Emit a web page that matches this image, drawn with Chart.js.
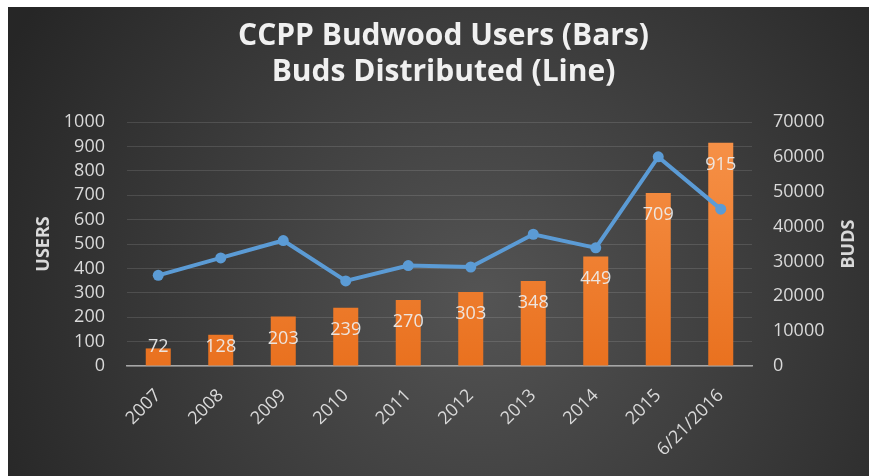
<!DOCTYPE html>
<html><head><meta charset="utf-8">
<script src="https://cdn.jsdelivr.net/npm/chart.js@4/dist/chart.umd.min.js"></script>
<style>
html,body{margin:0;padding:0;background:#fff;overflow:hidden;}
#wrap{position:absolute;left:8px;top:7px;width:861px;height:469px;}
</style></head><body>
<div id="wrap"><canvas id="c"></canvas></div>
<script>
const categories = ['2007','2008','2009','2010','2011','2012','2013','2014','2015','6/21/2016'];
const users = [72, 128, 203, 239, 270, 303, 348, 449, 709, 915];
const buds = [26000, 31000, 36000, 24400, 28800, 28400, 37800, 33900, 60000, 45000];
const titleLines = ['CCPP Budwood Users (Bars)', 'Buds Distributed (Line)'];
const leftAxisTitle = 'USERS';
const rightAxisTitle = 'BUDS';

const FONT = "'Open Sans', 'DejaVu Sans', sans-serif";
const TXT = '#d9d9d9';

const bgPlugin = {
  id: 'bg',
  beforeDraw(chart) {
    const {ctx, width, height} = chart;
    const g = ctx.createRadialGradient(width * 0.55, height * 0.62, 10, width * 0.55, height * 0.62, width * 0.62);
    g.addColorStop(0, '#535353');
    g.addColorStop(1, '#262626');
    ctx.save();
    ctx.fillStyle = g;
    ctx.fillRect(0, 0, width, height);
    ctx.restore();
  }
};

const labelPlugin = {
  id: 'barLabels',
  afterDatasetsDraw(chart) {
    const meta = chart.getDatasetMeta(1);
    const {ctx} = chart;
    ctx.save();
    ctx.font = '18px ' + FONT;
    ctx.fillStyle = 'rgba(238,238,238,0.92)';
    ctx.textAlign = 'center';
    ctx.textBaseline = 'middle';
    meta.data.forEach((bar, i) => {
      const y = Math.min(bar.y + 22, bar.base - 19);
      ctx.fillText(String(users[i]), bar.x, y);
    });
    ctx.restore();
  }
};

const rightTitlePlugin = {
  id: 'rightTitle',
  afterDraw(chart) {
    const s = chart.scales.y1;
    const {ctx} = chart;
    ctx.save();
    ctx.font = 'bold 18px ' + FONT;
    ctx.fillStyle = TXT;
    ctx.textAlign = 'center';
    ctx.textBaseline = 'middle';
    ctx.translate(841, (s.top + s.bottom) / 2);
    ctx.rotate(-Math.PI / 2);
    ctx.fillText(rightAxisTitle, 0, 0);
    ctx.restore();
  }
};

const plain = (v) => String(v);

new Chart(document.getElementById('c'), {
  data: {
    labels: categories,
    datasets: [
      {
        type: 'line',
        label: 'Buds',
        data: buds,
        yAxisID: 'y1',
        borderColor: '#5B9BD5',
        backgroundColor: '#5B9BD5',
        borderWidth: 4,
        pointRadius: 5.5,
        pointBackgroundColor: '#5B9BD5',
        pointBorderWidth: 0,
        tension: 0,
        order: 0
      },
      {
        type: 'bar',
        label: 'Users',
        data: users,
        yAxisID: 'y',
        backgroundColor: (c) => {
          const {chart} = c;
          const {ctx, chartArea} = chart;
          if (!chartArea) return '#ED7D31';
          const g = ctx.createLinearGradient(0, chartArea.top, 0, chartArea.bottom);
          g.addColorStop(0, '#F7934A');
          g.addColorStop(1, '#E9711F');
          return g;
        },
        barPercentage: 0.4,
        categoryPercentage: 1.0,
        order: 1
      }
    ]
  },
  options: {
    responsive: true,
    maintainAspectRatio: false,
    animation: false,
    layout: {padding: {left: 10, right: 0, top: 0, bottom: 0}},
    plugins: {
      legend: {display: false},
      tooltip: {enabled: false},
      title: {
        display: true,
        text: titleLines,
        color: '#f0f0f0',
        font: {family: FONT, size: 30, weight: 'bold', lineHeight: 36 / 30},
        padding: {top: 11, bottom: 32}
      }
    },
    scales: {
      x: {
        grid: {display: false},
        border: {display: true, color: '#a6a6a6', width: 1.5},
        ticks: {
          color: TXT,
          font: {family: FONT, size: 18},
          minRotation: 45,
          maxRotation: 45,
          padding: 11,
          autoSkip: false
        },
        afterFit(s) { s.height = 110; }
      },
      y: {
        position: 'left',
        min: 0, max: 1000,
        ticks: {stepSize: 100, autoSkip: false, callback: plain, color: TXT, font: {family: FONT, size: 18}, padding: 22},
        grid: {color: 'rgba(255,255,255,0.12)', lineWidth: 1, drawTicks: false},
        border: {display: false},
        title: {display: true, text: leftAxisTitle, color: TXT, font: {family: FONT, size: 18, weight: 'bold'}, padding: {top: 15, bottom: 0}},
        afterFit(s) { s.width = 109; }
      },
      y1: {
        position: 'right',
        min: 0, max: 70000,
        ticks: {stepSize: 10000, autoSkip: false, callback: plain, color: TXT, font: {family: FONT, size: 18}, padding: 21},
        grid: {display: false, drawTicks: false},
        border: {display: false},
        afterFit(s) { s.width = 117; }
      }
    }
  },
  plugins: [bgPlugin, labelPlugin, rightTitlePlugin]
});
</script>
</body></html>
